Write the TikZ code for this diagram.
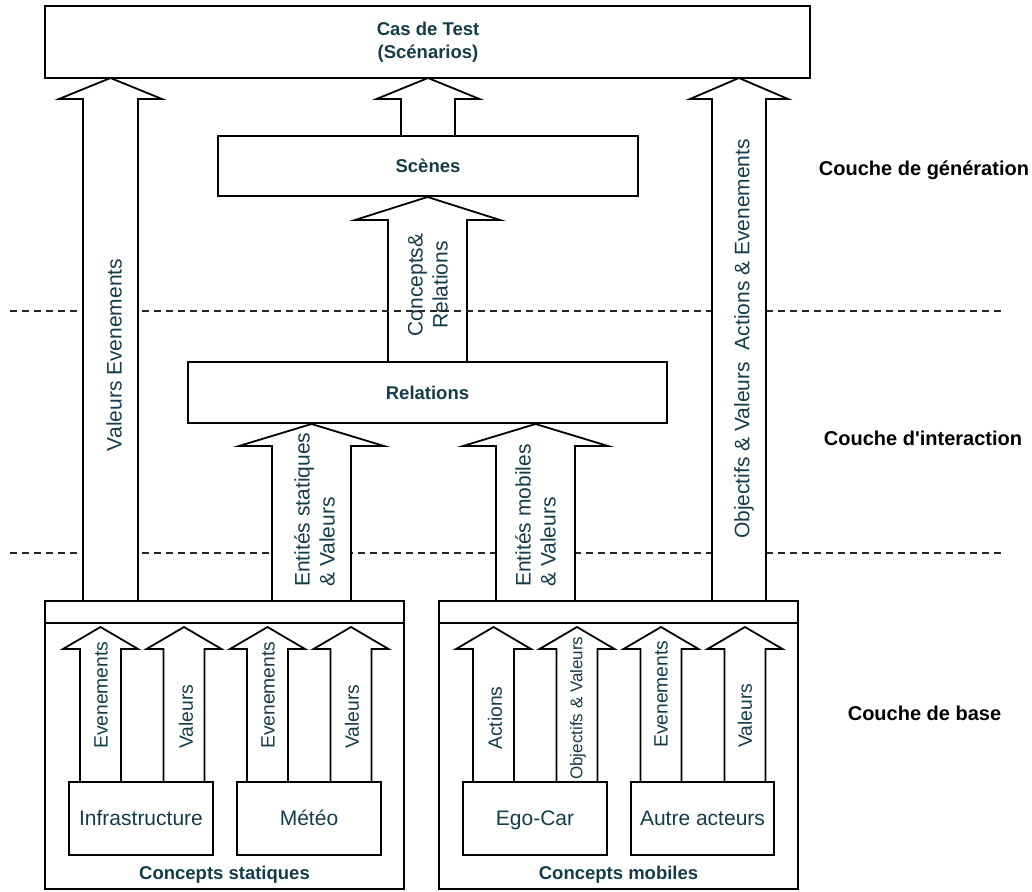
\documentclass[tikz,border=0pt]{standalone}
\usepackage{fontspec}
\setmainfont{Liberation Sans}
\definecolor{txt}{HTML}{143C4B}
\newcommand{\fatarrow}[6]{%
  \draw[arrowshape] (#1-#4,#2) -- (#1-#4,#3+#6) -- (#1-#5,#3+#6) -- (#1,#3)
    -- (#1+#5,#3+#6) -- (#1+#4,#3+#6) -- (#1+#4,#2) -- cycle;}
\begin{document}
\begin{tikzpicture}[x=1pt,y=-1pt,
  line/.style={draw=black,line width=1.8pt},
  box/.style={line,fill=white,inner sep=0pt,text=txt},
  arrowshape/.style={line,fill=white,line join=miter},
  dashline/.style={draw=black!85,line width=1.6pt,dash pattern=on 7pt off 5pt},
  boldlbl/.style={text=txt,inner sep=0pt,align=center,font=\fontsize{18.5}{23}\selectfont\bfseries},
  reglbl/.style={text=txt,inner sep=0pt,font=\fontsize{21}{25}\selectfont},
  smalllbl/.style={text=txt,inner sep=0pt,font=\fontsize{19.3}{23}\selectfont,rotate=90,anchor=west},
  rot/.style={reglbl,rotate=90},
  rotw/.style={reglbl,rotate=90,anchor=west},
  inbox/.style={box,reglbl,draw=black,fill=white,minimum height=73pt,text height=16pt,text depth=3pt},
  layer/.style={text=black,inner sep=0pt,font=\fontsize{20}{24}\selectfont\bfseries}]
\useasboundingbox (0,0) rectangle (1032,891);

% arrow Relations -> Scenes (under the dashed lines)
\fatarrow{427.5}{362}{197}{39.5}{72.5}{23}
\node[rot,align=center] (lconc) at (428,285) {Concepts\&\\Relations};

% layer separators
\coordinate (d1a) at (10,311);
\coordinate (d1b) at (1003,311);
\coordinate (d2a) at (10,553);
\coordinate (d2b) at (1003,553);
\draw[dashline] (d1a) -- (d1b);
\draw[dashline] (d2a) -- (d2b);

% big arrows
\fatarrow{110.5}{601}{78}{27.5}{51.5}{21}
\fatarrow{428}{136}{78}{27}{51.5}{21}
\fatarrow{739}{601}{78}{27}{49}{21}
\fatarrow{311.5}{601}{424}{39.5}{72.5}{22}
\fatarrow{535.5}{601}{424}{39.5}{72.5}{22}

\node[rot] (lve) at (114,355) {Valeurs Evenements};
\node[rot] (loa) at (744,339) {Objectifs \& Valeurs\ \ Actions \& Evenements};
\node[rotw,align=left] (les) at (314.5,587) {Entités statiques\\\& Valeurs};
\node[rotw,align=left] (lem) at (535.5,587) {Entités mobiles\\\& Valeurs};

% upper boxes
\node[box,minimum width=765pt,minimum height=72pt] (cas) at (427.5,42) {};
\node[boldlbl] (lcas) at (428,42.5) {Cas de Test\\(Scénarios)};
\node[box,minimum width=420pt,minimum height=60pt] (scenes) at (428,166) {};
\node[boldlbl] (lsc) at (428,166) {Scènes};
\node[box,minimum width=479pt,minimum height=61pt] (rel) at (427.5,392.5) {};
\node[boldlbl] (lrel) at (427.5,392.5) {Relations};

% bottom containers
\node[box,minimum width=359pt,minimum height=288pt] (stat) at (224.5,745) {};
\draw[line] ([yshift=-23pt]stat.north west) -- ([yshift=-23pt]stat.north east);
\node[box,minimum width=359pt,minimum height=288pt] (mob) at (618.5,745) {};
\draw[line] ([yshift=-23pt]mob.north west) -- ([yshift=-23pt]mob.north east);
\node[boldlbl] (lstat) at (224.5,875) {Concepts statiques};
\node[boldlbl] (lmob) at (618.5,875) {Concepts mobiles};

% small arrows
\fatarrow{100.5}{782}{627}{20.5}{37.5}{22}
\fatarrow{184}{782}{627}{20.5}{37.5}{22}
\fatarrow{267.5}{782}{627}{20.5}{37.5}{22}
\fatarrow{351}{782}{627}{20.5}{37.5}{22}
\fatarrow{493.5}{782}{627}{20.5}{37.5}{22}
\fatarrow{577}{782}{627}{20.5}{37.5}{22}
\fatarrow{661}{782}{627}{20.5}{37.5}{22}
\fatarrow{745}{782}{627}{20.5}{37.5}{22}

\node[smalllbl] (s1) at (101,749) {Evenements};
\node[smalllbl] (s2) at (186,749) {Valeurs};
\node[smalllbl] (s3) at (268,749) {Evenements};
\node[smalllbl] (s4) at (352,749) {Valeurs};
\node[smalllbl] (s5) at (495,750) {Actions};
\node[smalllbl,font=\fontsize{17}{20}\selectfont] (s6) at (578,780) {Objectifs \& Valeurs};
\node[smalllbl] (s7) at (661,748) {Evenements};
\node[smalllbl] (s8) at (745,748) {Valeurs};

% inner boxes
\node[inbox,minimum width=144pt] (infra) at (141,818.5) {Infrastructure};
\node[inbox,minimum width=144pt] (meteo) at (309,818.5) {Météo};
\node[inbox,minimum width=144pt] (ego) at (535,818.5) {Ego-Car};
\node[inbox,minimum width=143pt] (autre) at (702.5,818.5) {Autre acteurs};

% layer names
\node[layer] (lg) at (924,170) {Couche de génération};
\node[layer] (li) at (923,438) {Couche d\textquotesingle interaction};
\node[layer] (lb) at (924.5,713) {Couche de base};
\end{tikzpicture}
\end{document}
